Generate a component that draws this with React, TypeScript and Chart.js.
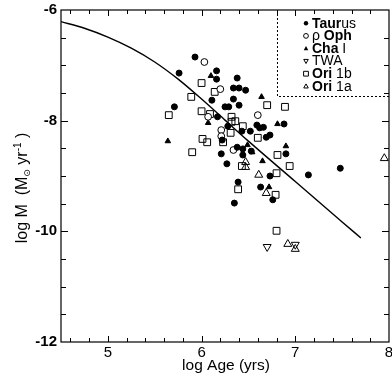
import React, { useEffect, useRef } from "react";
import { Chart, registerables } from "chart.js";
Chart.register(...registerables);

const FONT = '"Liberation Sans", Arial, "DejaVu Sans", sans-serif';

const xTickLabels = [5, 6, 7, 8];
const yTickLabels = [-6, -8, -10, -12];

const taurusAge = [5.93, 5.76, 6.16, 6.16, 6.38, 6.34, 6.40, 6.47, 6.11, 6.34, 6.40, 6.25, 6.29, 5.71, 6.17, 6.28, 6.43, 6.52, 6.59, 6.62, 6.66, 6.88, 6.69, 6.73, 6.22, 6.38, 6.44, 6.53, 6.21, 6.44, 6.90, 6.27, 6.73, 7.14, 7.48, 6.39, 6.63, 6.76, 6.35];
const taurusMdot = [-6.85, -7.14, -7.10, -7.25, -7.23, -7.41, -7.41, -7.45, -7.63, -7.61, -7.72, -7.75, -7.75, -7.75, -7.93, -8.10, -8.19, -8.19, -8.08, -8.13, -8.12, -8.06, -8.30, -8.26, -8.35, -8.48, -8.51, -8.55, -8.60, -8.62, -8.60, -8.78, -9.00, -8.98, -8.86, -9.11, -9.20, -9.43, -9.49];

const rhoOphAge = [6.03, 6.20, 6.07, 6.60, 6.21, 6.21, 6.34];
const rhoOphMdot = [-6.94, -7.43, -7.93, -7.90, -8.17, -8.28, -8.53];

const chaIAge = [6.10, 6.64, 6.07, 6.81, 5.64, 6.49, 6.90, 6.54, 6.65, 6.72];
const chaIMdot = [-7.19, -7.57, -8.04, -8.06, -8.37, -8.44, -8.46, -8.57, -8.73, -9.20];

const twaAge = [6.70, 7.00];
const twaMdot = [-10.28, -10.24];

const ori1bAge = [6.00, 6.14, 5.89, 6.70, 6.89, 5.65, 6.00, 6.09, 6.32, 6.32, 6.36, 6.44, 6.31, 6.60, 6.01, 6.06, 6.23, 5.90, 6.81, 6.43, 6.94, 6.80, 6.39, 6.79, 6.80];
const ori1bMdot = [-7.32, -7.48, -7.57, -7.72, -7.75, -7.90, -7.83, -7.88, -7.93, -8.02, -8.01, -8.10, -8.22, -8.31, -8.33, -8.39, -8.39, -8.57, -8.62, -8.82, -8.82, -8.95, -9.24, -9.34, -9.99];

const ori1aAge = [6.47, 6.47, 6.61, 6.69, 6.92, 7.00, 7.95];
const ori1aMdot = [-8.75, -8.84, -8.98, -9.31, -10.23, -10.32, -8.68];

const curveAge = [4.5, 4.75, 5.0, 5.25, 5.5, 5.75, 6.0, 6.25, 6.5, 7.0, 7.5, 7.7];
const curveMdot = [-6.21, -6.33, -6.49, -6.69, -6.94, -7.25, -7.61, -7.99, -8.37, -9.10, -9.83, -10.12];

const legendLabels = ["Taurus", "ρ Oph", "Cha I", "TWA", "Ori 1b", "Ori 1a"];
// [boldStart, boldEnd) character range drawn bold
const legendBold = [[0, 4], [2, 5], [0, 3], [0, 0], [0, 3], [0, 3]];
const legendMarkers = ["dot", "ocircle", "tri", "dtri", "square", "otri"];

const pts = (xs: number[], ys: number[]) => xs.map((x, i) => ({ x, y: ys[i] }));

const AREA = { left: 61, right: 389, top: 10, bottom: 342 };

function drawMarker(ctx: CanvasRenderingContext2D, kind: string, x: number, y: number, r: number) {
  ctx.beginPath();
  ctx.lineWidth = 1;
  ctx.strokeStyle = "#000";
  ctx.fillStyle = "#000";
  if (kind === "dot" || kind === "ocircle") {
    ctx.arc(x, y, r, 0, Math.PI * 2);
    if (kind === "dot") ctx.fill(); else ctx.stroke();
  } else if (kind === "square") {
    ctx.rect(x - r, y - r, 2 * r, 2 * r);
    ctx.stroke();
  } else {
    const s = kind === "dtri" ? -1 : 1;
    ctx.moveTo(x, y - s * r);
    ctx.lineTo(x + r * 0.95, y + s * r * 0.7);
    ctx.lineTo(x - r * 0.95, y + s * r * 0.7);
    ctx.closePath();
    if (kind === "tri") ctx.fill(); else ctx.stroke();
  }
}

const framePlugin = {
  id: "frameAndLegend",
  afterLayout(chart: any) {
    const ca = chart.chartArea;
    ca.left = AREA.left; ca.right = AREA.right; ca.top = AREA.top; ca.bottom = AREA.bottom;
    ca.width = AREA.right - AREA.left; ca.height = AREA.bottom - AREA.top;
    const x = chart.scales.x;
    x.left = AREA.left; x.right = AREA.right; x.width = ca.width;
    x.top = AREA.bottom; x.bottom = chart.height; x.height = chart.height - AREA.bottom;
    x.configure();
    const y = chart.scales.y;
    y.top = AREA.top; y.bottom = AREA.bottom; y.height = ca.height;
    y.left = 0; y.right = AREA.left; y.width = AREA.left;
    y.configure();
  },
  afterDraw(chart: any) {
    const { ctx, chartArea: ca, scales } = chart;
    const xs = scales.x, ys = scales.y;
    ctx.save();
    ctx.strokeStyle = "#000";
    ctx.lineWidth = 1.2;
    ctx.setLineDash([]);
    ctx.strokeRect(ca.left, ca.top, ca.right - ca.left, ca.bottom - ca.top);
    ctx.lineWidth = 1;
    ctx.beginPath();
    for (let k = 23; k <= 39; k++) {
      const v = k / 5;
      const major = Math.abs(v - Math.round(v)) < 1e-6;
      const len = major ? 6 : 4;
      const px = Math.round(xs.getPixelForValue(v)) + 0.5;
      ctx.moveTo(px, ca.bottom); ctx.lineTo(px, ca.bottom - len);
      ctx.moveTo(px, ca.top); ctx.lineTo(px, ca.top + len);
    }
    for (let k = -23; k <= -13; k++) {
      const v = k / 2;
      const major = yTickLabels.includes(v);
      const len = major ? 7 : 5;
      const py = Math.round(ys.getPixelForValue(v)) + 0.5;
      ctx.moveTo(ca.left, py); ctx.lineTo(ca.left + len, py);
      ctx.moveTo(ca.right, py); ctx.lineTo(ca.right - len, py);
    }
    ctx.stroke();

    // legend box
    const bx = ca.right - 112, by = ca.top, bb = ca.top + 86;
    ctx.setLineDash([2, 2]);
    ctx.lineWidth = 1;
    ctx.beginPath();
    ctx.moveTo(bx + 0.5, by);
    ctx.lineTo(bx + 0.5, bb + 0.5);
    ctx.lineTo(ca.right, bb + 0.5);
    ctx.stroke();
    ctx.setLineDash([]);

    ctx.textBaseline = "middle";
    ctx.textAlign = "left";
    legendLabels.forEach((lab, i) => {
      const y = ca.top + 13.3 + i * 12.6;
      drawMarker(ctx, legendMarkers[i], bx + 29, y, legendMarkers[i] === "dot" ? 2.2 : 2.4);
      let x = bx + 35;
      const [b0, b1] = legendBold[i];
      const parts: [string, boolean][] = [
        [lab.slice(0, b0), false],
        [lab.slice(b0, b1), true],
        [lab.slice(b1), false],
      ];
      parts.forEach(([t, bold]) => {
        if (!t) return;
        ctx.font = `${bold ? "bold " : ""}14px ${FONT}`;
        ctx.fillStyle = "#000";
        ctx.fillText(t, x, y + 0.5);
        x += ctx.measureText(t).width;
      });
    });

    // x title
    ctx.font = `15.5px ${FONT}`;
    ctx.textAlign = "center";
    ctx.textBaseline = "alphabetic";
    ctx.fillText("log Age (yrs)", 226, 370);

    // y title (rotated)
    ctx.translate(27, 188);
    ctx.rotate(-Math.PI / 2);
    const segs: [string, number, number][] = [
      ["log M  (M", 16, 0],
      ["⊙", 9, 3],
      [" yr", 16, 0],
      ["-1", 10, -6],
      [" )", 16, 0],
    ];
    let total = 0;
    segs.forEach(([t, s]) => { ctx.font = `${s}px ${FONT}`; total += ctx.measureText(t).width; });
    let cx = -total / 2;
    ctx.textAlign = "left";
    segs.forEach(([t, s, dy]) => {
      ctx.font = `${s}px ${FONT}`;
      ctx.fillText(t, cx, dy);
      cx += ctx.measureText(t).width;
    });
    ctx.restore();
  },
};

export default function App() {
  const ref = useRef<HTMLCanvasElement>(null);
  useEffect(() => {
    document.body.style.margin = "0";
    const ctx = ref.current!.getContext("2d")!;
    const common = { showLine: false, borderColor: "#000", borderWidth: 1 };
    const chart = new Chart(ctx, {
      type: "scatter",
      data: {
        datasets: [
          { type: "line", label: "model", data: pts(curveAge, curveMdot), borderColor: "#000", borderWidth: 1.4, pointRadius: 0, cubicInterpolationMode: "monotone", fill: false } as any,
          { label: "Taurus", data: pts(taurusAge, taurusMdot), ...common, backgroundColor: "#000", pointStyle: "circle", pointRadius: 3 },
          { label: "ρ Oph", data: pts(rhoOphAge, rhoOphMdot), ...common, backgroundColor: "#fff", pointStyle: "circle", pointRadius: 3.4 },
          { label: "Cha I", data: pts(chaIAge, chaIMdot), ...common, backgroundColor: "#000", pointStyle: "triangle", pointRadius: 3.2 },
          { label: "TWA", data: pts(twaAge, twaMdot), ...common, backgroundColor: "rgba(0,0,0,0)", pointStyle: "triangle", rotation: 180, pointRadius: 4.6 },
          { label: "Ori 1b", data: pts(ori1bAge, ori1bMdot), ...common, backgroundColor: "rgba(0,0,0,0)", pointStyle: "rect", pointRadius: 4.8 },
          { label: "Ori 1a", data: pts(ori1aAge, ori1aMdot), ...common, backgroundColor: "rgba(0,0,0,0)", pointStyle: "triangle", pointRadius: 4.6 },
        ],
      },
      options: {
        responsive: false,
        animation: false,
        events: [],
        layout: { padding: { top: 10, right: 3, left: 0, bottom: 0 }, autoPadding: false },
        plugins: { legend: { display: false }, tooltip: { enabled: false } },
        scales: {
          x: {
            type: "linear", min: 4.5, max: 8,
            grid: { display: false, drawTicks: false },
            border: { display: false },
            afterBuildTicks: (s: any) => { s.ticks = xTickLabels.map((v) => ({ value: v })); },
            afterFit: (s: any) => { s.height = 37; },
            ticks: { color: "#000", padding: 2, maxRotation: 0, autoSkip: false, font: { family: FONT, size: 15 }, callback: (v: any) => String(v) },
          },
          y: {
            type: "linear", min: -12, max: -6,
            grid: { display: false, drawTicks: false },
            border: { display: false },
            afterBuildTicks: (s: any) => { s.ticks = yTickLabels.map((v) => ({ value: v })); },
            afterFit: (s: any) => { s.width = 61; },
            ticks: { color: "#000", padding: 4, autoSkip: false, font: { family: FONT, size: 15, weight: "bold" }, callback: (v: any) => String(v) },
          },
        },
      },
      plugins: [framePlugin],
    } as any);
    return () => chart.destroy();
  }, []);
  return <canvas ref={ref} width={392} height={379} style={{ display: "block", width: 392, height: 379 }} />;
}
